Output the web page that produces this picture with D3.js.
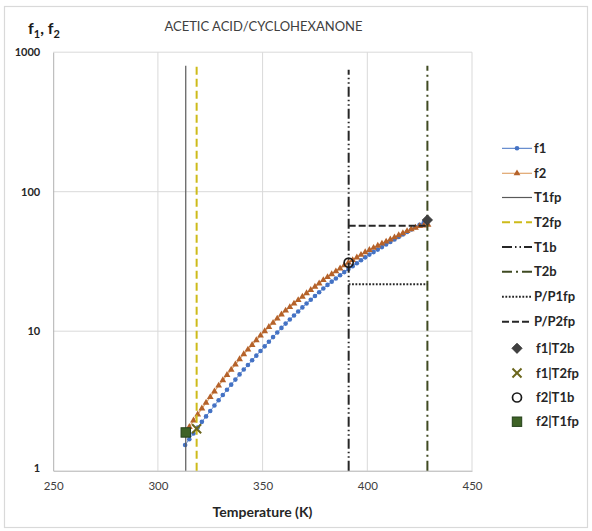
<!DOCTYPE html>
<html>
<head>
<meta charset="utf-8">
<script src="https://cdn.jsdelivr.net/npm/d3@7"></script>
<style>
  html, body { margin: 0; padding: 0; background: #fff; }
  svg { display: block; }
</style>
</head>
<body>
<svg id="chart" width="592" height="531"></svg>
<script>
// ---------------- DATA ----------------
const temps = [313,315,317,319,321,323,325,327,329,331,333,335,337,339,341,343,345,347,349,351,353,355,357,359,361,363,365,367,369,371,373,375,377,379,381,383,385,387,389,391,393,395,397,399,401,403,405,407,409,411,413,415,417,419,421,423,425,427,429];
const f1 = [1.53,1.68,1.85,2.04,2.24,2.45,2.68,2.93,3.20,3.49,3.80,4.14,4.50,4.90,5.31,5.73,6.19,6.68,7.21,7.79,8.41,9.07,9.78,10.56,11.34,12.12,12.96,13.85,14.81,15.80,16.81,17.88,19.03,20.25,21.48,22.65,23.85,25.15,26.52,27.89,29.27,30.72,32.25,33.85,35.40,36.90,38.46,40.09,41.78,43.55,45.39,47.32,49.32,51.40,53.53,55.69,57.94,60.26,62.66];
const f2 = [1.86,2.06,2.29,2.53,2.79,3.07,3.37,3.70,4.07,4.45,4.86,5.30,5.77,6.30,6.84,7.38,7.97,8.61,9.29,10.00,10.72,11.48,12.30,13.18,14.05,14.88,15.76,16.70,17.68,18.71,19.75,20.84,22.00,23.23,24.43,25.63,26.85,28.18,29.63,31.00,32.36,33.78,35.26,36.80,38.25,39.59,40.98,42.42,43.91,45.47,47.06,48.71,50.42,52.19,53.79,55.19,56.62,57.28,57.81];

// characteristic temperatures (K)
const tempNames = ["T1fp", "T2fp", "T1b", "T2b"];
const tempValues = [313.3, 318.5, 391.1, 428.7];
const tempLineTop = [800, 800, 750, 800];

// pressure ratio lines (between T1b and T2b)
const ratioNames = ["P/P1fp", "P/P2fp"];
const ratioValues = [21.7, 57.0];

// special points
const pointNames = ["f1|T2b", "f1|T2fp", "f2|T1b", "f2|T1fp"];
const pointTemps = [428.7, 318.5, 391.1, 313.3];
const pointValues = [62.7, 2.0, 31.0, 1.88];

const xTicks = [250, 300, 350, 400, 450];
const yTicks = [1, 10, 100, 1000];
const titleText = "ACETIC ACID/CYCLOHEXANONE";
const xTitle = "Temperature (K)";

// ---------------- DRAW ----------------
const FONT = "Lato, 'Open Sans', 'Liberation Sans', sans-serif";
const svg = d3.select("#chart");
svg.append("rect").attr("x", 0).attr("y", 0).attr("width", 592).attr("height", 531).attr("fill", "#fff");
svg.append("rect").attr("x", 4.5).attr("y", 6.5).attr("width", 583).attr("height", 521)
  .attr("fill", "none").attr("stroke", "#d9d9d9").attr("stroke-width", 1.2);

const x = d3.scaleLinear().domain([250, 450]).range([53.2, 472]);
const y = d3.scaleLog().domain([1, 1000]).range([470.7, 52.2]);

const g = svg.append("g");

// gridlines
g.append("g").selectAll("line").data(yTicks.slice(1)).join("line")
  .attr("x1", x(250)).attr("x2", x(450))
  .attr("y1", d => y(d)).attr("y2", d => y(d))
  .attr("stroke", "#d9d9d9").attr("stroke-width", 1);
g.append("g").selectAll("line").data(xTicks.slice(1)).join("line")
  .attr("x1", d => x(d)).attr("x2", d => x(d))
  .attr("y1", y(1)).attr("y2", y(1000))
  .attr("stroke", "#d9d9d9").attr("stroke-width", 1);

// axes
const xAxis = d3.axisBottom(x).tickValues(xTicks).tickSize(0).tickPadding(11).tickFormat(d3.format("d"));
const xg = g.append("g").attr("transform", `translate(0,${y(1)})`).call(xAxis);
xg.select(".domain").attr("stroke", "#b0b0b0").attr("stroke-width", 1);
xg.selectAll("text").attr("font-family", FONT).attr("font-size", 11.5).attr("fill", "#404040");

const yAxis = d3.axisLeft(y).tickValues(yTicks).tickSize(0).tickPadding(13).tickFormat(d3.format("d"));
const yg = g.append("g").attr("transform", `translate(${x(250)},0)`).call(yAxis);
yg.select(".domain").attr("stroke", "#b0b0b0").attr("stroke-width", 1);
yg.selectAll("text").attr("font-family", FONT).attr("font-size", 11).attr("font-weight", "bold").attr("fill", "#262626");
yg.selectAll(".tick").filter(d => d === 1).select("text").attr("dy", "0.1em");

// series styles
const lineDefs = [
  {stroke: "#595959", width: 1.2, dash: null},
  {stroke: "#cdbb1a", width: 2, dash: "8,4"},
  {stroke: "#262626", width: 2, dash: "10,3,1.5,3,1.5,3"},
  {stroke: "#3f4a22", width: 2, dash: "10,4,2,4"}
];
const ratioDefs = [
  {stroke: "#262626", width: 2, dash: "1.8,1.6"},
  {stroke: "#262626", width: 2, dash: "7,3"}
];

// f1
const lineGen = d3.line().x((d, i) => x(temps[i])).y(d => y(d));
g.append("path").datum(f1).attr("d", lineGen).attr("fill", "none").attr("stroke", "#4472c4").attr("stroke-width", 0.8);
g.append("g").selectAll("circle").data(f1).join("circle")
  .attr("cx", (d, i) => x(temps[i])).attr("cy", d => y(d)).attr("r", 2.3)
  .attr("fill", "#4472c4");

// f2
g.append("path").datum(f2).attr("d", lineGen).attr("fill", "none").attr("stroke", "#e0a56c").attr("stroke-width", 1.2);
const tri = d3.symbol().type(d3.symbolTriangle).size(20);
g.append("g").selectAll("path").data(f2).join("path")
  .attr("d", tri)
  .attr("transform", (d, i) => `translate(${x(temps[i])},${y(d)})`)
  .attr("fill", "#b5622a");

// vertical temperature lines
g.append("g").selectAll("line").data(tempValues).join("line")
  .attr("x1", d => x(d)).attr("x2", d => x(d))
  .attr("y1", y(1)).attr("y2", (d, i) => y(tempLineTop[i]))
  .attr("stroke", (d, i) => lineDefs[i].stroke)
  .attr("stroke-width", (d, i) => lineDefs[i].width)
  .attr("stroke-dasharray", (d, i) => lineDefs[i].dash);

// horizontal pressure ratio lines
g.append("g").selectAll("line").data(ratioValues).join("line")
  .attr("x1", x(tempValues[2])).attr("x2", x(tempValues[3]))
  .attr("y1", d => y(d)).attr("y2", d => y(d))
  .attr("stroke", (d, i) => ratioDefs[i].stroke)
  .attr("stroke-width", (d, i) => ratioDefs[i].width)
  .attr("stroke-dasharray", (d, i) => ratioDefs[i].dash);

// special markers
function drawMarker(sel, k, cx, cy) {
  if (k === 0) {
    sel.append("rect").attr("x", -3.6).attr("y", -3.6).attr("width", 7.2).attr("height", 7.2)
      .attr("transform", `translate(${cx},${cy}) rotate(45)`).attr("fill", "#404040").attr("stroke", "#303030").attr("stroke-width", 0.8);
  } else if (k === 1) {
    sel.append("path").attr("d", d3.symbol().type(d3.symbolX).size(55)())
      .attr("transform", `translate(${cx},${cy})`).attr("fill", "none").attr("stroke", "#6b661c").attr("stroke-width", 2);
  } else if (k === 2) {
    sel.append("circle").attr("cx", cx).attr("cy", cy).attr("r", 4.5)
      .attr("fill", "none").attr("stroke", "#1a1a1a").attr("stroke-width", 1.7);
  } else {
    sel.append("rect").attr("x", cx - 4.7).attr("y", cy - 4.7).attr("width", 9.4).attr("height", 9.4)
      .attr("fill", "#3e6226").attr("stroke", "#24401a").attr("stroke-width", 1);
  }
}
const mg = g.append("g");
pointValues.forEach((v, k) => drawMarker(mg, k, x(pointTemps[k]), y(v)));

// titles
svg.append("text").attr("x", 263.5).attr("y", 31).attr("text-anchor", "middle")
  .attr("font-family", FONT).attr("font-size", 13).attr("fill", "#404040").text(titleText);

const yl = svg.append("text").attr("x", 28).attr("y", 34)
  .attr("font-family", FONT).attr("font-size", 16).attr("font-weight", "bold").attr("fill", "#1a1a1a");
yl.append("tspan").text("f");
yl.append("tspan").attr("font-size", 11).attr("dy", 3.5).text("1");
yl.append("tspan").attr("dy", -3.5).text(", f");
yl.append("tspan").attr("font-size", 11).attr("dy", 3.5).text("2");

svg.append("text").attr("x", 262.5).attr("y", 516.5).attr("text-anchor", "middle")
  .attr("font-family", FONT).attr("font-size", 14).attr("font-weight", "bold").attr("fill", "#262626").text(xTitle);

// legend
const legY = [148.3, 173.3, 197.5, 222.3, 247, 271.7, 296.7, 321.7, 348.3, 373, 397.5, 421.7];
const lg = svg.append("g");
const legendLabels = ["f1", "f2"].concat(tempNames, ratioNames, pointNames);
legendLabels.forEach((lab, k) => {
  const yy = legY[k];
  if (k === 0) {
    lg.append("line").attr("x1", 502).attr("x2", 532).attr("y1", yy).attr("y2", yy).attr("stroke", "#4472c4").attr("stroke-width", 1);
    lg.append("circle").attr("cx", 517).attr("cy", yy).attr("r", 2.3).attr("fill", "#4472c4");
  } else if (k === 1) {
    lg.append("line").attr("x1", 502).attr("x2", 532).attr("y1", yy).attr("y2", yy).attr("stroke", "#e0a56c").attr("stroke-width", 1.2);
    lg.append("path").attr("d", tri).attr("transform", `translate(517,${yy})`).attr("fill", "#b5622a");
  } else if (k < 6) {
    const s = lineDefs[k - 2];
    lg.append("line").attr("x1", 502).attr("x2", 532).attr("y1", yy).attr("y2", yy)
      .attr("stroke", s.stroke).attr("stroke-width", s.width).attr("stroke-dasharray", s.dash);
  } else if (k < 8) {
    const s = ratioDefs[k - 6];
    lg.append("line").attr("x1", 502).attr("x2", 532).attr("y1", yy).attr("y2", yy)
      .attr("stroke", s.stroke).attr("stroke-width", s.width).attr("stroke-dasharray", s.dash);
  } else {
    drawMarker(lg, k - 8, 517, yy);
  }
  lg.append("text").attr("x", k < 8 ? 534 : 536).attr("y", yy).attr("dy", "0.35em")
    .attr("font-family", FONT).attr("font-size", 13).attr("font-weight", "bold").attr("fill", "#262626").text(lab);
});
</script>
</body>
</html>
